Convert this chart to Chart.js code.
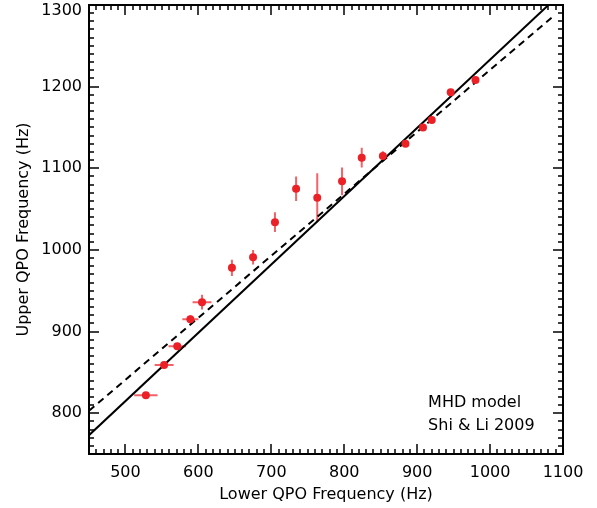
<!DOCTYPE html>
<html>
<head>
<meta charset="utf-8">
<script src="https://cdn.jsdelivr.net/npm/chart.js@4.4.1/dist/chart.umd.min.js"></script>
<style>
  html, body { margin: 0; padding: 0; background: #fff; }
</style>
</head>
<body>
<canvas id="qpoChart" width="597" height="508"></canvas>
<script>
// kHz QPO pairs (Hz)
const lowerQPO = [528, 553, 571, 589, 605, 646, 675, 705, 734, 763, 797, 824, 853, 884, 908, 920, 946, 980];
const upperQPO = [822, 859, 882, 915, 936, 978, 991, 1034, 1075, 1064, 1084, 1113, 1115, 1130, 1150, 1159, 1193, 1208];
const lowerErr = [16, 13, 12, 11, 13, 4, 3, 3, 3, 3, 3, 3, 4, 4, 4, 4, 4, 4];
const upperErr = [2, 3, 3, 5, 9, 10, 9, 12, 15, 30, 17, 12, 6, 4, 3, 4, 3, 3];

// MHD model (solid) and the dashed comparison line, end points
const modelX = [450, 1080];
const modelY = [773, 1300];
const dashX = [450, 1085];
const dashY = [803, 1285];

const xTickLabels = [500, 600, 700, 800, 900, 1000, 1100];
const yTickLabels = [800, 900, 1000, 1100, 1200, 1300];
const noteLines = ['MHD model', 'Shi & Li 2009'];

const FONT = 'DejaVu Sans';
const red = 'rgb(236, 32, 39)';

const toXY = (xs, ys) => xs.map((v, i) => ({ x: v, y: ys[i] }));

const frameAndBars = {
  id: 'frameAndBars',
  beforeDatasetsDraw(chart) {
    const { ctx, scales: { x, y } } = chart;
    ctx.save();
    ctx.strokeStyle = 'rgba(236, 32, 39, 0.7)';
    ctx.lineWidth = 2;
    ctx.beginPath();
    lowerQPO.forEach((v, i) => {
      const px = x.getPixelForValue(v);
      const py = y.getPixelForValue(upperQPO[i]);
      ctx.moveTo(x.getPixelForValue(v - lowerErr[i]), py);
      ctx.lineTo(x.getPixelForValue(v + lowerErr[i]), py);
      ctx.moveTo(px, y.getPixelForValue(upperQPO[i] - upperErr[i]));
      ctx.lineTo(px, y.getPixelForValue(upperQPO[i] + upperErr[i]));
    });
    ctx.stroke();
    ctx.restore();
  },
  afterDraw(chart) {
    const { ctx, chartArea: a, scales: { x, y } } = chart;
    ctx.save();
    ctx.setLineDash([]);
    ctx.strokeStyle = '#000';
    ctx.fillStyle = '#000';
    ctx.lineWidth = 2;
    ctx.strokeRect(a.left, a.top, a.right - a.left, a.bottom - a.top);
    // inward ticks on all four sides, minor every 10 Hz
    for (let v = 450; v <= 1100; v += 10) {
      const len = v % 100 === 0 ? 10 : 5;
      const px = Math.round(x.getPixelForValue(v));
      ctx.fillRect(px - 0.75, a.bottom - len, 1.5, len);
      ctx.fillRect(px - 0.75, a.top, 1.5, len);
    }
    for (let v = 750; v <= 1300; v += 10) {
      const len = v % 100 === 0 ? 10 : 5;
      const py = Math.round(y.getPixelForValue(v));
      ctx.fillRect(a.left, py - 0.75, len, 1.5);
      ctx.fillRect(a.right - len, py - 0.75, len, 1.5);
    }
    // model label
    ctx.font = '16px "' + FONT + '"';
    ctx.textBaseline = 'middle';
    ctx.fillText(noteLines[0], x.getPixelForValue(915), y.getPixelForValue(813));
    ctx.fillText(noteLines[1], x.getPixelForValue(915), y.getPixelForValue(785));
    ctx.restore();
  }
};

new Chart(document.getElementById('qpoChart'), {
  type: 'scatter',
  data: {
    datasets: [
      {
        label: 'Observed',
        data: toXY(lowerQPO, upperQPO),
        backgroundColor: red,
        borderColor: red,
        pointRadius: 4,
        pointBorderWidth: 0
      },
      {
        label: 'MHD model',
        data: toXY(modelX, modelY),
        showLine: true,
        borderColor: '#000',
        borderWidth: 2,
        pointRadius: 0
      },
      {
        label: 'Dashed',
        data: toXY(dashX, dashY),
        showLine: true,
        borderColor: '#000',
        borderWidth: 2,
        borderDash: [7, 5],
        pointRadius: 0
      }
    ]
  },
  options: {
    responsive: false,
    animation: false,
    layout: { padding: { top: 5, right: 34, left: 0, bottom: 0 } },
    plugins: { legend: { display: false }, tooltip: { enabled: false } },
    scales: {
      x: {
        type: 'linear',
        min: 450,
        max: 1100,
        afterFit: s => { s.height = 54; s.paddingLeft = 0; s.paddingRight = 0; },
        afterBuildTicks: s => { s.ticks = xTickLabels.map(v => ({ value: v })); },
        grid: { display: false, drawTicks: false },
        border: { display: false },
        ticks: { color: '#000', padding: 9, font: { family: FONT, size: 16 }, callback: v => String(v) },
        title: {
          display: true,
          text: 'Lower QPO Frequency (Hz)',
          color: '#000',
          font: { family: FONT, size: 16 },
          padding: { top: 0, bottom: 4 }
        }
      },
      y: {
        type: 'linear',
        min: 750,
        max: 1300,
        afterFit: s => { s.width = 89; s.paddingTop = 0; s.paddingBottom = 0; },
        afterBuildTicks: s => { s.ticks = yTickLabels.map(v => ({ value: v })); },
        grid: { display: false, drawTicks: false },
        border: { display: false },
        ticks: {
          color: '#000',
          padding: 7,
          // top label sits just below the frame corner, as in the original
          font: c => ({ family: FONT, size: 16, lineHeight: c.tick && c.tick.value === 1300 ? 0.75 : 1.2 }),
          callback: v => v === 1300 ? ['', String(v)] : String(v)
        },
        title: {
          display: true,
          text: 'Upper QPO Frequency (Hz)',
          color: '#000',
          font: { family: FONT, size: 16 },
          padding: { top: 14, bottom: 0 }
        }
      }
    }
  },
  plugins: [frameAndBars]
});
</script>
</body>
</html>
